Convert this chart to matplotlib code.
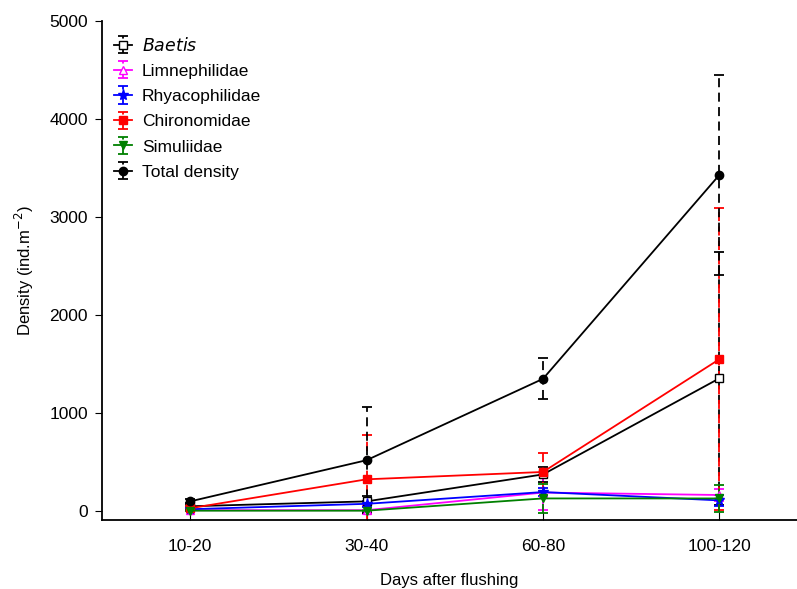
import numpy as np
import matplotlib
matplotlib.use("Agg")
import matplotlib.pyplot as plt

plt.rcParams['font.family'] = ['Liberation Sans', 'DejaVu Sans']

periods = ["10-20", "30-40", "60-80", "100-120"]

baetis = [50, 100, 375, 1355]
baetis_err = [20, 50, 80, 1290]
limnephilidae = [10, 10, 190, 165]
limnephilidae_err = [10, 40, 180, 60]
rhyacophilidae = [20, 75, 195, 110]
rhyacophilidae_err = [10, 30, 40, 60]
chironomidae = [30, 325, 400, 1550]
chironomidae_err = [20, 450, 190, 1540]
simuliidae = [5, 5, 130, 130]
simuliidae_err = [5, 10, 150, 135]
total = [100, 520, 1350, 3430]
total_err = [20, 540, 210, 1020]

series = [
    (r"$\it{Baetis}$", baetis, baetis_err, "black", "s", "white"),
    ("Limnephilidae", limnephilidae, limnephilidae_err, "magenta", "^", "white"),
    ("Rhyacophilidae", rhyacophilidae, rhyacophilidae_err, "blue", "*", "blue"),
    ("Chironomidae", chironomidae, chironomidae_err, "red", "s", "red"),
    ("Simuliidae", simuliidae, simuliidae_err, "green", "v", "green"),
    ("Total density", total, total_err, "black", "o", "black"),
]

fig = plt.figure(figsize=(7.97, 5.89), dpi=100)
ax = fig.add_axes([102 / 797, 1 - 520 / 589, 1 - 102 / 797, (520 - 21) / 589])

x = np.arange(len(periods))
for label, vals, err, col, mk, face in series:
    eb = ax.errorbar(x, vals, yerr=err, color=col, marker=mk, markerfacecolor=face,
                     markeredgecolor=col, markersize=6 if mk != "*" else 8,
                     linewidth=1.3, elinewidth=1.3, capsize=3.5, capthick=1.3, label=label)
    eb[-1][0].set_linestyle((0, (5, 3)))

ax.set_xlim(-0.5, 3.44)
ax.set_ylim(-90, 5000)
ax.set_xticks(x)
ax.set_xticklabels(periods)
ax.set_yticks([0, 1000, 2000, 3000, 4000, 5000])
ax.tick_params(axis="x", direction="in", length=6, labelsize=12.5, pad=14)
ax.tick_params(axis="y", direction="out", length=5, labelsize=12.5, pad=5)
ax.spines["top"].set_visible(False)
ax.spines["right"].set_visible(False)
ax.spines["left"].set_linewidth(1.3)
ax.spines["bottom"].set_linewidth(1.3)

ax.set_xlabel("Days after flushing", fontsize=12, labelpad=13)
ax.set_ylabel("Density (ind.m$^{-2}$)", fontsize=12, labelpad=10)

ax.legend(loc="upper left", frameon=False, fontsize=12.5, handlelength=1.0,
          handletextpad=0.6, labelspacing=0.58, borderaxespad=0.3,
          bbox_to_anchor=(0.0, 0.995))

fig.savefig("out.png", dpi=100)
